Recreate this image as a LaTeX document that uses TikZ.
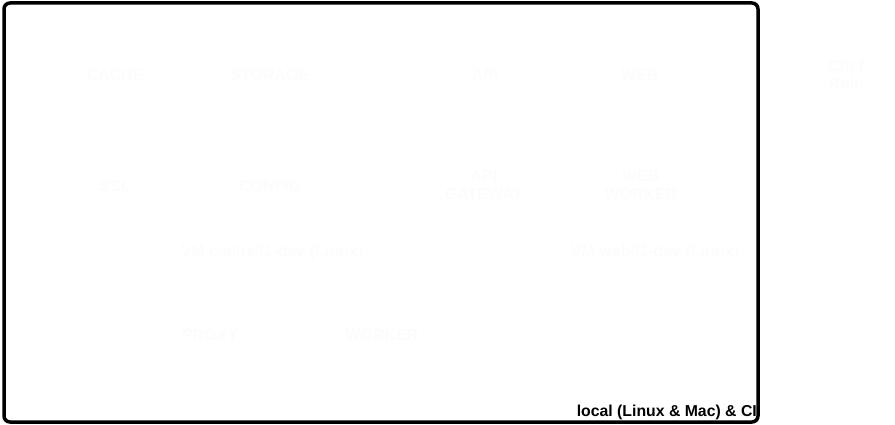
\documentclass[tikz,border=0pt]{standalone}
\usepackage{fontspec}
\setmainfont{Liberation Sans}
\definecolor{faint}{RGB}{252,252,252}
\begin{document}
\begin{tikzpicture}[x=1pt,y=-1pt,
  faintlbl/.style={text=faint,font=\bfseries\fontsize{16}{18}\selectfont,align=center,inner sep=0pt},
  framebox/.style={draw=black,line width=3.5pt,rounded corners=6pt}]
\useasboundingbox (0,0) rectangle (895,425);
\draw[framebox] (4,3) rectangle (758,422);
\node[anchor=base east,font=\bfseries\fontsize{15.8}{18}\selectfont,inner sep=0pt] (envlbl) at (757,416) {local (Linux \& Mac) \& CI};
\node[faintlbl] (cache) at (115,75) {CACHE};
\node[faintlbl] (storage) at (270,75) {STORAGE};
\node[faintlbl] (api) at (485,75) {API};
\node[faintlbl] (web) at (640,75) {WEB};
\node[faintlbl] (chef) at (846,75) {Chef\\Role};
\node[faintlbl] (ssl) at (115,186) {SSL};
\node[faintlbl] (config) at (270,186) {CONFIG};
\node[faintlbl] (gateway) at (484,185) {API\\GATEWAY};
\node[faintlbl] (worker) at (641,185) {WEB\\WORKER};
\node[faintlbl] (vmcache) at (272,252) {VM cache01-dev (Linux)};
\node[faintlbl] (vmweb) at (655,252) {VM web01-dev (Linux)};
\node[faintlbl] (proxy) at (210,335) {PROXY};
\node[faintlbl] (workr) at (382,335) {WORKER};
\end{tikzpicture}
\end{document}
